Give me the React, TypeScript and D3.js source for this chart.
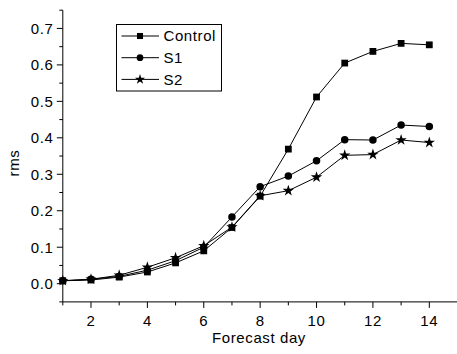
import React from 'react';
import * as d3 from 'd3';

const days = [1, 2, 3, 4, 5, 6, 7, 8, 9, 10, 11, 12, 13, 14];
const control = [0.008, 0.01, 0.018, 0.032, 0.057, 0.09, 0.154, 0.24, 0.369, 0.512, 0.605, 0.637, 0.659, 0.655];
const s1 = [0.008, 0.012, 0.02, 0.037, 0.063, 0.1, 0.183, 0.266, 0.295, 0.337, 0.395, 0.394, 0.435, 0.431];
const s2 = [0.008, 0.012, 0.023, 0.045, 0.071, 0.104, 0.155, 0.241, 0.255, 0.292, 0.352, 0.354, 0.394, 0.387];
const xTicks = [2, 4, 6, 8, 10, 12, 14];
const xMinor = [1, 3, 5, 7, 9, 11, 13];
const yTicks = [0, 0.1, 0.2, 0.3, 0.4, 0.5, 0.6, 0.7];
const yMinor = [-0.05, 0.05, 0.15, 0.25, 0.35, 0.45, 0.55, 0.65, 0.75];

const series = [
  { name: 'Control', values: control, symbol: d3.symbolSquare, size: 46 },
  { name: 'S1', values: s1, symbol: d3.symbolCircle, size: 44 },
  { name: 'S2', values: s2, symbol: d3.symbolStar, size: 40 },
];

const font = '"Liberation Sans", Arial, sans-serif';

export default function App() {
  const width = 457;
  const height = 354;
  const x = d3.scaleLinear().domain([1, 15]).range([62.8, 457.5]);
  const y = d3.scaleLinear().domain([-0.05, 0.75]).range([301.9, 10.2]);
  const x0 = x(1);
  const y0 = y(-0.05);

  const line = d3.line<number>()
    .x((d, i) => x(days[i]))
    .y(d => y(d));

  const textStyle = { fontFamily: font, fontSize: 15, letterSpacing: 0.6 };

  return (
    <svg width={width} height={height} style={{ position: 'absolute', left: 0, top: 0, background: 'white' }}>
      <rect width={width} height={height} fill="white" />
      {/* axes */}
      <line x1={x0} x2={x0} y1={y(0.75)} y2={y0} stroke="black" strokeWidth={1} />
      <line x1={x0} x2={width} y1={y0} y2={y0} stroke="black" strokeWidth={1} />
      {yTicks.map(t => (
        <g key={'y' + t}>
          <line x1={x0 - 6} x2={x0} y1={y(t)} y2={y(t)} stroke="black" />
          <text x={53.5} y={y(t)} dy="0.36em" textAnchor="end" style={textStyle}>{t.toFixed(1)}</text>
        </g>
      ))}
      {yMinor.map(t => (
        <line key={'ym' + t} x1={x0 - 3.5} x2={x0} y1={y(t)} y2={y(t)} stroke="black" />
      ))}
      {xTicks.map(t => (
        <g key={'x' + t}>
          <line x1={x(t)} x2={x(t)} y1={y0} y2={y0 + 6} stroke="black" />
          <text x={x(t)} y={325.7} textAnchor="middle" style={textStyle}>{t}</text>
        </g>
      ))}
      {xMinor.map(t => (
        <line key={'xm' + t} x1={x(t)} x2={x(t)} y1={y0} y2={y0 + 3.5} stroke="black" />
      ))}
      <text x={259} y={343.3} textAnchor="middle" style={textStyle}>Forecast day</text>
      <text transform="translate(18.5,163) rotate(-90)" textAnchor="middle" style={textStyle}>rms</text>

      {/* series */}
      {series.map(s => (
        <g key={s.name}>
          <path d={line(s.values) || ''} fill="none" stroke="black" strokeWidth={1} />
          {s.values.map((v, i) => (
            <path key={i} d={d3.symbol().type(s.symbol).size(s.size)() || ''}
              transform={`translate(${x(days[i])},${y(v)})`} fill="black" />
          ))}
        </g>
      ))}

      {/* legend */}
      <rect x={116.5} y={24.5} width={105} height={66.5} fill="white" stroke="black" strokeWidth={1} />
      {series.map((s, i) => {
        const ly = 36 + i * 21.7;
        return (
          <g key={'lg' + s.name}>
            <line x1={121.5} x2={159} y1={ly} y2={ly} stroke="black" />
            <path d={d3.symbol().type(s.symbol).size(s.size * 0.8)() || ''}
              transform={`translate(140,${ly})`} fill="black" />
            <text x={163.5} y={ly} dy="0.36em" style={textStyle}>{s.name}</text>
          </g>
        );
      })}
    </svg>
  );
}
